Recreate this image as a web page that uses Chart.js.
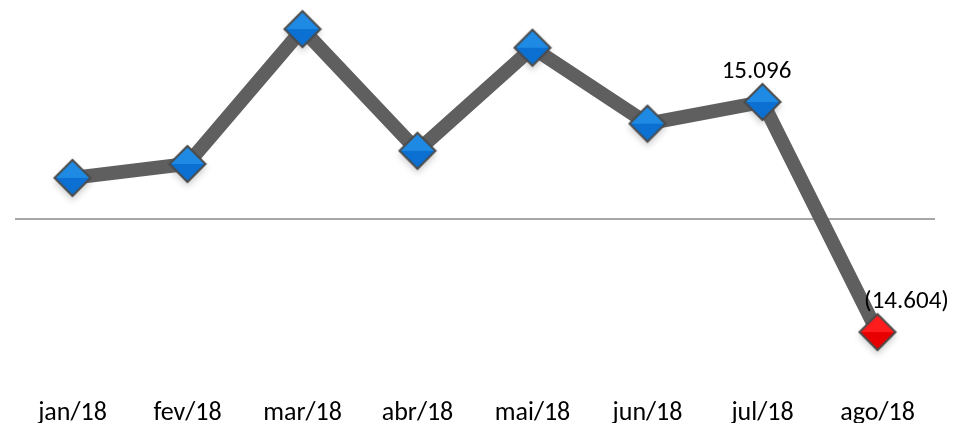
<!DOCTYPE html>
<html>
<head>
<meta charset="utf-8">
<script src="https://cdn.jsdelivr.net/npm/chart.js@4.4.1/dist/chart.umd.min.js"></script>
<style>
  html, body { margin: 0; padding: 0; background: #fff; }
  #wrap { width: 955px; height: 423px; position: relative; }
</style>
</head>
<body>
<div id="wrap"><canvas id="c"></canvas></div>
<script>
'use strict';

// monthly result, values in units (labels shown in pt-BR format)
const months = ['jan/18', 'fev/18', 'mar/18', 'abr/18', 'mai/18', 'jun/18', 'jul/18', 'ago/18'];
const values = [5300, 7100, 24500, 8800, 22100, 12300, 15096, -14604];
const labelled = [6, 7]; // indexes that carry a data label

const FONT = 'Carlito, "Noto Sans", sans-serif';

const fmt = (v) => {
  const s = Math.abs(v).toLocaleString('pt-BR');
  return v < 0 ? '(' + s + ')' : s;
};

// diamond marker with a lighter top half, drawn once and reused as pointStyle
function diamond(top, bottom) {
  const size = 40, r = 18, c = size / 2;
  const cv = document.createElement('canvas');
  cv.width = size; cv.height = size;
  const g = cv.getContext('2d');
  const grad = g.createLinearGradient(0, c - r, 0, c + r);
  grad.addColorStop(0, top);
  grad.addColorStop(0.5, top);
  grad.addColorStop(0.5, bottom);
  grad.addColorStop(1, bottom);
  g.beginPath();
  g.moveTo(c, c - r); g.lineTo(c + r, c); g.lineTo(c, c + r); g.lineTo(c - r, c);
  g.closePath();
  g.fillStyle = grad;
  g.fill();
  g.lineWidth = 2;
  g.strokeStyle = '#4a4a4a';
  g.stroke();
  return cv;
}
const blueMark = diamond('#1f8ae4', '#0b70d2');
const redMark = diamond('#ff1c1c', '#e80000');

// draws the two value labels next to their points
const valueLabels = {
  id: 'valueLabels',
  afterDatasetsDraw(chart) {
    const ctx = chart.ctx;
    const pts = chart.getDatasetMeta(0).data;
    ctx.save();
    ctx.font = '25px ' + FONT;
    ctx.fillStyle = '#000';
    ctx.textAlign = 'center';
    ctx.textBaseline = 'middle';
    labelled.forEach(i => {
      const p = pts[i];
      const v = values[i];
      const dx = v < 0 ? 29 : -6;
      ctx.fillText(fmt(v), p.x + dx, p.y - 30);
    });
    ctx.restore();
  }
};

// soft shadow under the markers only
const markerShadow = {
  id: 'markerShadow',
  beforeDatasetsDraw(chart) {
    const meta = chart.getDatasetMeta(0);
    const ctx = chart.ctx;
    ctx.save();
    ctx.fillStyle = 'rgba(0,0,0,0.18)';
    ctx.filter = 'blur(3px)';
    meta.data.forEach(p => {
      ctx.beginPath();
      ctx.moveTo(p.x, p.y - 15);
      ctx.lineTo(p.x + 19, p.y + 4);
      ctx.lineTo(p.x, p.y + 23);
      ctx.lineTo(p.x - 19, p.y + 4);
      ctx.closePath();
      ctx.fill();
    });
    ctx.restore();
  }
};

new Chart(document.getElementById('c'), {
  type: 'line',
  data: {
    labels: months,
    datasets: [{
      data: values,
      borderColor: '#5f5f5f',
      borderWidth: 14,
      tension: 0,
      pointStyle: values.map(v => v < 0 ? redMark : blueMark),
      pointRadius: 18,
      pointHoverRadius: 18,
    }],
  },
  options: {
    responsive: true, maintainAspectRatio: false,
    animation: false,
    layout: { autoPadding: false, padding: { top: 2, left: 15, right: 20, bottom: 0 } },
    plugins: { legend: { display: false }, tooltip: { enabled: false } },
    scales: {
      x: {
        offset: true,
        afterFit: (s) => { s.height = 39; },
        grid: { display: false, drawTicks: false },
        border: { display: false },
        ticks: { color: '#000', padding: 14, font: { size: 26, family: FONT } },
      },
      y: {
        min: -21300, max: 28000,
        afterBuildTicks: (s) => { s.ticks = [{ value: 0 }]; },
        ticks: { display: false },
        border: { display: false },
        grid: { drawTicks: false, lineWidth: 2, color: '#a6a6a6' },
      },
    },
  },
  plugins: [markerShadow, valueLabels],
});
</script>
</body>
</html>
